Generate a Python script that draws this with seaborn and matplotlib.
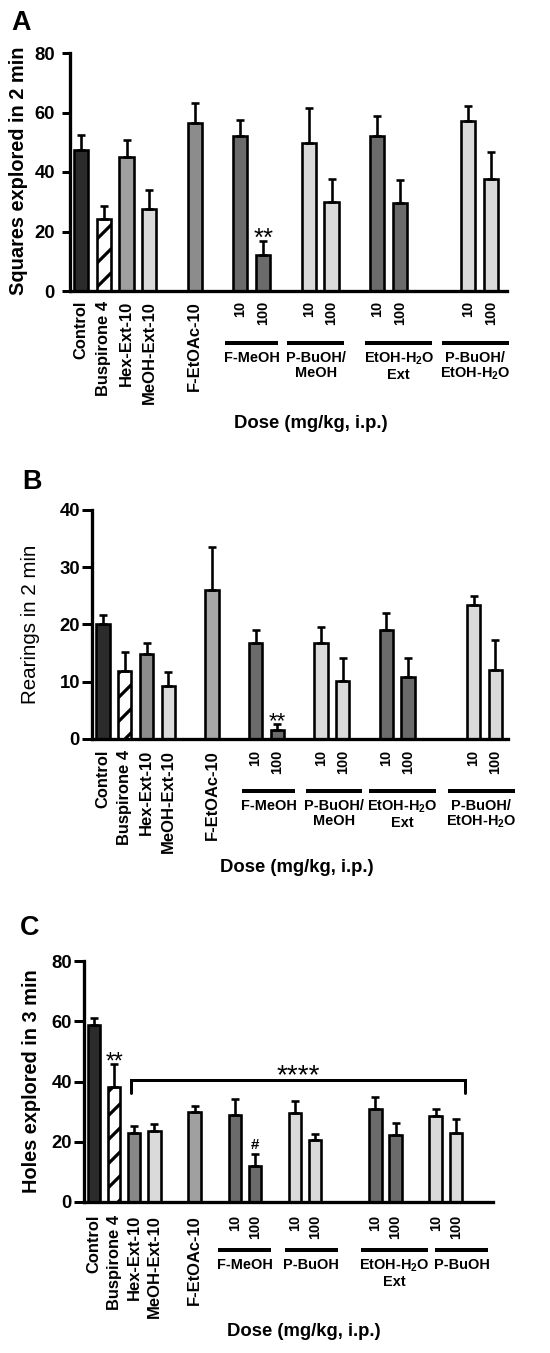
import numpy as np
import pandas as pd
import matplotlib.pyplot as plt
import seaborn as sns
from matplotlib import transforms

# bar labels, same order in all three panels
labels = ["Control", "Buspirone 4", "Hex-Ext-10", "MeOH-Ext-10", "F-EtOAc-10",
          "10", "100", "10", "100", "10", "100", "10", "100"]
pos_ab = [0, 1, 2, 3, 5, 7, 8, 10, 11, 13, 14, 17, 18]
pos_c = [0, 1, 2, 3, 5, 7, 8, 10, 11, 14, 15, 17, 18]

# A: squares explored in 2 min (mean, SEM)
sq_mean = [47.5, 24.1, 44.9, 27.6, 56.6, 52.2, 12.2, 49.7, 30.0, 52.1, 29.7, 57.0, 37.8]
sq_sem = [5.0, 4.5, 5.7, 6.3, 6.6, 5.2, 4.6, 11.8, 7.7, 6.6, 7.6, 5.1, 9.0]
# B: rearings in 2 min
rear_mean = [20.1, 11.8, 14.8, 9.2, 26.0, 16.7, 1.5, 16.7, 10.2, 19.1, 10.9, 23.4, 12.1]
rear_sem = [1.6, 3.4, 1.9, 2.5, 7.5, 2.4, 1.1, 2.8, 3.9, 2.9, 3.2, 1.5, 5.2]
# C: holes explored in 3 min
holes_mean = [58.6, 38.2, 22.9, 23.7, 29.8, 29.0, 11.9, 29.5, 20.7, 30.9, 22.3, 28.7, 23.0]
holes_sem = [2.5, 7.6, 2.2, 2.2, 2.2, 5.3, 3.9, 3.9, 1.8, 4.1, 4.0, 2.2, 4.5]

groups_ab = ["F-MeOH", "P-BuOH/\nMeOH", "EtOH-H$_2$O\nExt", "P-BuOH/\nEtOH-H$_2$O"]
groups_c = ["F-MeOH", "P-BuOH", "EtOH-H$_2$O\nExt", "P-BuOH"]

# colours
BLK = "#2b2b2b"
DRK = "#6b6b6b"
LGT = "#dadada"
colors_a = [BLK, "white", "#a0a0a0", LGT, "#8c8c8c", DRK, DRK, LGT, LGT, DRK, DRK, LGT, LGT]
colors_b = [BLK, "white", "#8c8c8c", LGT, "#a8a8a8", DRK, DRK, LGT, LGT, DRK, DRK, LGT, LGT]
colors_c = [BLK, "white", "#888888", LGT, "#a0a0a0", DRK, DRK, LGT, LGT, DRK, DRK, LGT, LGT]

sns.set_style("ticks")
plt.rcParams["font.family"] = ["Liberation Sans", "DejaVu Sans"]
plt.rcParams["font.weight"] = "bold"
for key in ["text.color", "axes.labelcolor", "xtick.color", "ytick.color",
            "axes.edgecolor"]:
    plt.rcParams[key] = "black"
plt.rcParams["mathtext.fontset"] = "custom"
plt.rcParams["mathtext.rm"] = "Liberation Sans:bold"
plt.rcParams["mathtext.it"] = "Liberation Sans:bold"
plt.rcParams["mathtext.bf"] = "Liberation Sans:bold"
plt.rcParams["mathtext.default"] = "rm"
plt.rcParams["hatch.linewidth"] = 3.2
plt.rcParams["hatch.color"] = "black"

W, H = 550, 1353
fig = plt.figure(figsize=(W / 72, H / 72), dpi=72)


def px(x, y):
    return x / W, 1 - y / H


def panel(box, pos, mean, sem, colors, ymax, ystep, xlim, groups, shifts,
          line_drop, tick_len, ytick_pad, xtick_pad):
    left, top, right, bottom = box
    rect = [left / W, 1 - bottom / H, (right - left) / W, (bottom - top) / H]
    ax = fig.add_axes(rect)
    df = pd.DataFrame({"pos": pos, "mean": mean,
                       "bar": [f"b{i}" for i in range(len(pos))]})
    sns.barplot(data=df, x="pos", y="mean", hue="bar", palette=colors,
                native_scale=True, width=0.62, dodge=False, errorbar=None,
                legend=False, saturation=1, edgecolor="black", linewidth=2.6,
                ax=ax)
    for p in ax.patches:
        if abs(p.get_x() + p.get_width() / 2 - pos[1]) < 0.01:
            p.set_hatch("/")
    ax.errorbar(pos, mean, yerr=[np.zeros(len(sem)), sem], fmt="none",
                ecolor="black", elinewidth=2.6, capsize=4, capthick=2.6, zorder=3)

    ax.set_xlim(*xlim)
    ax.set_ylim(0, ymax)
    ax.set_yticks(np.arange(0, ymax + 1, ystep))
    ax.set_xticks(pos)
    ax.set_xticklabels(labels, rotation=90, fontsize=16.5)
    for t in ax.get_xticklabels():
        if t.get_text().isdigit():
            t.set_fontsize(14.5)
    ax.set_xlabel("")
    ax.set_ylabel("")
    sns.despine(ax=ax)
    for s in ["left", "bottom"]:
        ax.spines[s].set_linewidth(3.3)
    ax.tick_params(axis="y", length=tick_len, width=3, labelsize=18.5, pad=ytick_pad)
    ax.tick_params(axis="x", length=0, pad=xtick_pad)

    # group labels with a bar above them
    fig.canvas.draw()
    rend = fig.canvas.get_renderer()
    ax_h = bottom - top
    data_per_px = (xlim[1] - xlim[0]) / (right - left)
    blend = transforms.blended_transform_factory(ax.transData, ax.transAxes)
    for k, name in enumerate(groups):
        a, b = 5 + 2 * k, 6 + 2 * k
        cx = (pos[a] + pos[b]) / 2 + shifts[k]
        t = ax.text(cx, -(line_drop + 8) / ax_h, name, transform=blend,
                    ha="center", va="top", fontsize=14.5, linespacing=1.05,
                    multialignment="center")
        w = t.get_window_extent(renderer=rend).width * data_per_px * 0.95
        ax.plot([cx - w / 2, cx + w / 2], [-line_drop / ax_h] * 2, color="black",
                lw=4, transform=blend, clip_on=False, solid_capstyle="butt")
    return ax


axA = panel((70, 53, 507, 291), pos_ab, sq_mean, sq_sem, colors_a, 80, 20,
            (-0.48, 18.7), groups_ab, [0, -0.2, 0.45, -0.2], 52, 8, 7, 10)
axB = panel((92, 510, 508, 739), pos_ab, rear_mean, rear_sem, colors_b, 40, 10,
            (-0.5, 18.58), groups_ab, [0.1, 0.1, 0.25, -0.15], 52, 10, 2, 11)
axC = panel((84, 961, 493, 1202), pos_c, holes_mean, holes_sem, colors_c, 80, 20,
            (-0.5, 19.85), groups_c, [0, 0.3, 0.45, 0.8], 48, 10, 2, 13)

# significance marks
axA.annotate("**", (pos_ab[6], sq_mean[6] + sq_sem[6]), xytext=(0, -5),
             textcoords="offset points", ha="center", va="baseline",
             fontsize=26, fontweight="normal")
axB.annotate("**", (pos_ab[6], rear_mean[6] + rear_sem[6]), xytext=(0, -3),
             textcoords="offset points", ha="center", va="baseline",
             fontsize=22, fontweight="normal")
axC.annotate("**", (pos_c[1], holes_mean[1] + holes_sem[1]), xytext=(0, -4),
             textcoords="offset points", ha="center", va="baseline",
             fontsize=23, fontweight="normal")
axC.annotate("#", (pos_c[6], holes_mean[6] + holes_sem[6]), xytext=(0, 5),
             textcoords="offset points", ha="center", va="baseline",
             fontsize=15)
# bracket from Hex-Ext-10 to the last bar
bx0, bx1 = pos_c[2] - 0.15, pos_c[-1] + 0.45
axC.plot([bx0, bx0, bx1, bx1], [36.3, 40.4, 40.4, 36.3], color="black", lw=3,
         clip_on=False, solid_joinstyle="miter")
axC.annotate("****", ((bx0 + bx1) / 2, 40.4), xytext=(0, -3),
             textcoords="offset points", ha="center", va="baseline",
             fontsize=28, fontweight="normal")

# axis titles and panel letters
fig.text(*px(19, 171), "Squares explored in 2 min", rotation=90, ha="center",
         va="center", fontsize=20)
fig.text(*px(31, 624), "Rearings in 2 min", rotation=90, ha="center",
         va="center", fontsize=20.5, fontweight="normal")
fig.text(*px(32, 1081), "Holes explored in 3 min", rotation=90, ha="center",
         va="center", fontsize=20)
for (x, y) in [(311, 423), (297, 867), (304, 1332)]:
    fig.text(*px(x, y), "Dose (mg/kg, i.p.)", ha="center", va="center", fontsize=18.5)
for letter, (x, y) in zip("ABC", [(21, 23), (32, 482), (30, 928)]):
    fig.text(*px(x, y), letter, ha="center", va="center", fontsize=27)

fig.savefig("out.png", dpi=72)
plt.close(fig)
